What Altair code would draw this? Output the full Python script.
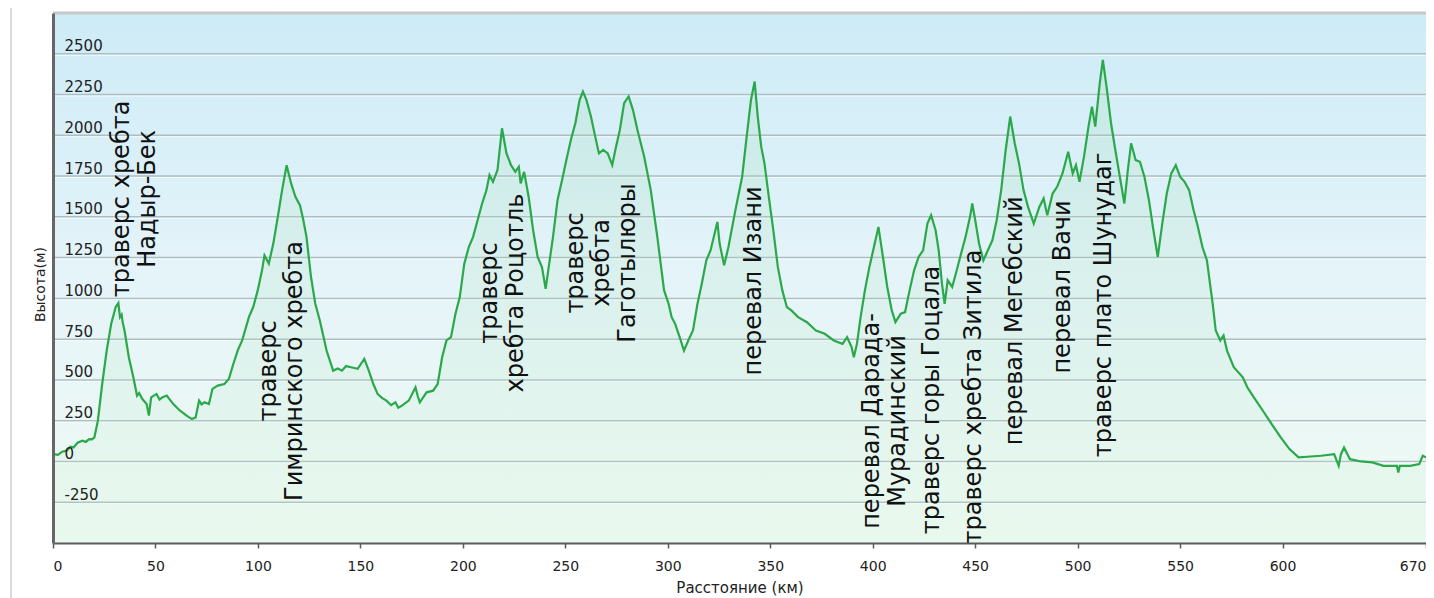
import altair as alt
import pandas as pd

# ---- elevation profile (km, m) ----
km = [0, 0.2, 0.5, 2.4, 4.5, 6.7, 8.5, 10, 12, 14.3, 16, 17.6, 19, 20.2, 21.9, 24, 26.2, 28.4, 30.6, 31.9,
      32.7, 33.5, 34, 34.9, 37, 39.2, 41, 42, 43.6, 45.7, 46.8, 47.9, 50.5, 52, 53.3, 55.5, 58.7, 62, 65.2,
      67.8, 69.6, 71.3, 72.5, 73.9, 76.1, 77.8, 80.4, 83.6, 85.8, 88, 90.1, 92.3, 95.6, 97.7, 99.9, 102,
      103.2, 105.3, 107.5, 109.7, 111.8, 114, 116.2, 118.3, 120.5, 122, 123.7, 125.9, 128, 130.2, 133.5,
      136.7, 139, 141, 143, 145.4, 148.7, 151.9, 154.1, 156.3, 158.4, 160.5, 162.7, 165, 167.1, 168.5,
      170.3, 173.6, 176.9, 178, 179, 182.3, 185.5, 187.7, 189.9, 192, 194.2, 196.4, 198.5, 200.7, 202.9,
      205, 207.2, 209.4, 211.5, 213, 214.7, 216.9, 219.1, 221.3, 223.5, 225.6, 227.3, 228.2, 229.9, 232.1,
      234.3, 236.5, 238.6, 240.4, 241.9, 244, 246.2, 248.4, 250.5, 252.7, 254.9, 257, 258.6, 260.3, 262.5,
      264.6, 266.4, 268.5, 270.7, 272.9, 274.4, 276.6, 278.7, 280.9, 283, 285.2, 288.5, 291.7, 294.9,
      298.2, 300.4, 301.9, 303.6, 305.8, 307.9, 310, 312.3, 314.5, 316.6, 318.8, 320.9, 324.2, 325.3,
      327.5, 329.6, 333, 336.3, 338.5, 340.6, 342.4, 343.9, 345.6, 347.2, 349.3, 351.5, 353.7, 355.9,
      358.1, 360.3, 363.6, 367.9, 372.3, 376.6, 381, 385.3, 387.5, 389.7, 390.8, 392.3, 394.1, 396.2,
      398.4, 400.6, 402.8, 405, 407.1, 409.3, 411.1, 413.7, 415.8, 418, 420.2, 422.4, 424.6, 426.7, 428.5,
      430.7, 432.2, 433.8, 435.1, 436.6, 438.8, 441, 443.1, 445.3, 447.5, 448.6, 450.3, 451.9, 454, 456.2,
      458.4, 460.5, 462.7, 464.9, 467.1, 469.3, 471.4, 473.6, 475.8, 478.6, 481.3, 483.4, 485.2, 487.8,
      490, 492.6, 495.4, 497.6, 499.2, 500.9, 503.1, 505.3, 507, 508.6, 510.8, 512.3, 514.1, 516.3, 518.4,
      520.6, 522.8, 524.5, 526.1, 528.3, 530.4, 532.6, 534.8, 537, 539.1, 541.3, 543.5, 545.7, 547.9, 550,
      552.2, 554.4, 556.6, 558.7, 560.9, 563.1, 564.6, 565.9, 567.4, 569.6, 571.2, 572.9, 576.2, 580.6,
      582.8, 586, 590.4, 594.7, 599.1, 603.4, 607.8, 612.1, 618.7, 625.2, 627.4, 628.5, 630, 632.9, 638.3,
      643.8, 649.3, 655.8, 656.5, 657.2, 662.3, 666.7, 668.4, 670]
elev = [140, -90, 45, 41, 60, 66, 90, 86, 115, 127, 120, 137, 135, 148, 250, 475, 680, 844, 947, 971,
        885, 900, 854, 803, 639, 516, 404, 420, 383, 352, 281, 393, 414, 380, 393, 404, 352, 311, 281,
        260, 270, 373, 350, 363, 352, 445, 465, 475, 506, 598, 680, 742, 885, 947, 1049, 1172,
        1264, 1213, 1336, 1500, 1664, 1817, 1705, 1623, 1572, 1490, 1377, 1131, 967, 865, 680,
        557, 570, 557, 585, 578, 568, 629, 557, 475, 414, 390, 373, 345, 363, 330,
        342, 373, 455, 400, 363, 424, 434, 475, 639, 742, 762, 906, 1008, 1213, 1315,
        1377, 1479, 1582, 1664, 1756, 1715, 1787, 2043, 1889, 1817, 1776, 1807, 1705, 1776, 1623,
        1418, 1254, 1192, 1059, 1192, 1377, 1602, 1725, 1848, 1971, 2074, 2217, 2268, 2217, 2115,
        1992, 1889, 1910, 1889, 1817, 1910, 2033, 2197, 2238, 2156, 2033, 1869, 1664, 1377,
        1049, 967, 885, 844, 762, 680, 742, 803, 967, 1090, 1233, 1295, 1469, 1336,
        1203, 1315, 1541, 1746, 1992, 2217, 2330, 2115, 1930, 1828, 1623, 1418, 1193, 1049,
        947, 926, 885, 854, 803, 783, 742, 721, 762, 701, 639, 721, 885, 1049,
        1193, 1315, 1438, 1254, 1070, 926, 854, 906, 916, 1049, 1172, 1254, 1295, 1459, 1510,
        1418, 1295, 1090, 967, 1111, 1070, 1172, 1274, 1377, 1500, 1582, 1459, 1336, 1233, 1295,
        1356, 1479, 1664, 1910, 2115, 1951, 1828, 1664, 1561, 1459, 1561, 1613, 1510, 1643,
        1684, 1766, 1899, 1766, 1817, 1715, 1869, 2053, 2176, 2053, 2320, 2463, 2299, 2074, 1910,
        1746, 1582, 1787, 1951, 1848, 1838, 1746, 1602, 1418, 1254, 1459, 1643, 1766, 1817, 1746,
        1715, 1664, 1541, 1438, 1315, 1233, 1090, 967, 803, 742, 772, 680, 578, 516,
        455, 393, 311, 229, 148, 76, 25, 29, 35, 45, -27, 45, 86, 14, 0,
        -6, -27, -27, -68, -27, -27, -16, 35, 25]

# ---- rotated labels (position of the first line) ----
label_text = [
    "траверс хребта\nНадыр-Бек",
    "траверс\nГимринского хребта",
    "траверс\nхребта Роцотль",
    "траверс\nхребта\nГаготылюры",
    "перевал Изани",
    "перевал Дарада-\nМурадинский",
    "траверс горы Гоцала",
    "траверс хребта Зитила",
    "перевал Мегебский",
    "перевал Вачи",
    "траверс плато Шунудаг",
]
label_km = [33.5, 105.5, 213.4, 255.3, 342.3, 399.7, 428.8, 449.3, 469.2, 493.0, 513.0]
label_elev = [1610, 555, 1033, 1217, 1107, 248, 377, 395, 862, 1070, 960]

x_ticks = [0, 50, 100, 150, 200, 250, 300, 350, 400, 450, 500, 550, 600, 670]
y_ticks = [-250, 0, 250, 500, 750, 1000, 1250, 1500, 1750, 2000, 2250, 2500]
grid_vals = [-250, 0, 250, 500, 750, 1000, 1250, 1500, 1750, 2000, 2250, 2500]

W, H = 1373, 530
FONT = "DejaVu Sans"

prof = pd.DataFrame({"km": km, "elev": elev})
labels = pd.DataFrame({"km": label_km, "elev": label_elev, "label": label_text})
grid = pd.DataFrame({"v": grid_vals})

xscale = alt.Scale(domain=[0, 670], nice=False, zero=False)
yscale = alt.Scale(domain=[-500, 2750], nice=False, zero=False)

x_axis = alt.Axis(
    values=x_ticks, grid=False, labelFlush=True, domainColor="#5a5a5a", domainWidth=2,
    tickColor="#5a5a5a", tickSize=5, tickWidth=1.5, labelFont=FONT, labelFontSize=14,
    labelColor="#222222", labelPadding=11, title="Расстояние (км)", titleFont=FONT,
    titleFontSize=15, titleFontWeight="normal", titleColor="#222222", titlePadding=7,
    labelOverlap=False, labelExpr="'' + datum.value", zindex=1)
y_axis = alt.Axis(
    values=y_ticks, grid=False, ticks=False, tickSize=0, domainColor="#666666", domainWidth=3,
    labelAlign="left", labelPadding=-11, labelBaseline="alphabetic", labelOffset=-3,
    labelFont=FONT, labelFontSize=15, labelColor="#222222", labelFlush=False, labelOverlap=False,
    labelExpr="'' + datum.value",
    title="Высота(м)", titleFont=FONT, titleFontSize=14, titleFontWeight="normal",
    titleColor="#222222", titleX=-13, titleY=271, titleAngle=270, titleAlign="center",
    titleBaseline="middle", zindex=1)

bg_grad = alt.LinearGradient(
    gradient="linear", x1=0, y1=0, x2=0, y2=1,
    stops=[alt.GradientStop(offset=0, color="#cdebf7"),
           alt.GradientStop(offset=0.5, color="#e5f4f9"),
           alt.GradientStop(offset=1, color="#effaf2")])
area_grad = alt.LinearGradient(
    gradient="linear", x1=0, y1=0, x2=0, y2=1,
    stops=[alt.GradientStop(offset=0, color="rgba(150,215,170,0.22)"),
           alt.GradientStop(offset=1, color="rgba(200,240,210,0.15)")])

bg = alt.Chart(alt.Data(values=[{}])).mark_rect(color=bg_grad).encode(
    x=alt.value(0), x2=alt.value(W), y=alt.value(0), y2=alt.value(H))

grid_dark = alt.Chart(grid).mark_rule(color="#adbdc4", strokeWidth=1.5).encode(
    y=alt.Y("v:Q", scale=yscale, axis=y_axis))
grid_light = alt.Chart(grid).mark_rule(color="#ffffff", opacity=0.7, strokeWidth=1, yOffset=1.5).encode(
    y=alt.Y("v:Q", scale=yscale, axis=y_axis))

area = alt.Chart(prof).mark_area(color=area_grad).encode(
    x=alt.X("km:Q", scale=xscale, axis=x_axis),
    y=alt.Y("elev:Q", scale=yscale, axis=y_axis),
    y2=alt.datum(-500))

line = alt.Chart(prof).mark_line(color="#2aa84a", strokeWidth=2.2).encode(
    x=alt.X("km:Q", scale=xscale, axis=x_axis),
    y=alt.Y("elev:Q", scale=yscale, axis=y_axis))

text = alt.Chart(labels).mark_text(
    angle=270, align="center", baseline="middle", font=FONT, fontSize=24, lineHeight=26,
    lineBreak="\n", color="#111111").encode(
    x=alt.X("km:Q", scale=xscale, axis=x_axis),
    y=alt.Y("elev:Q", scale=yscale, axis=y_axis),
    text="label:N")

top_border = alt.Chart(alt.Data(values=[{}])).mark_rule(color="#c8c8c8", strokeWidth=3).encode(
    x=alt.value(0), x2=alt.value(W), y=alt.value(0))
left_border = alt.Chart(alt.Data(values=[{}])).mark_rule(color="#cccccc", strokeWidth=1.5).encode(
    x=alt.value(-42), y=alt.value(-5), y2=alt.value(H + 60))

chart = alt.layer(bg, grid_dark, grid_light, area, line, text, top_border, left_border).properties(
    width=W, height=H,
    autosize=alt.AutoSizeParams(type="none"),
    padding={"left": 45, "top": 5, "right": 0, "bottom": 55},
    background="white",
).configure_view(stroke=None)

chart.save("out.html", embed_options={"renderer": "svg", "actions": False})
